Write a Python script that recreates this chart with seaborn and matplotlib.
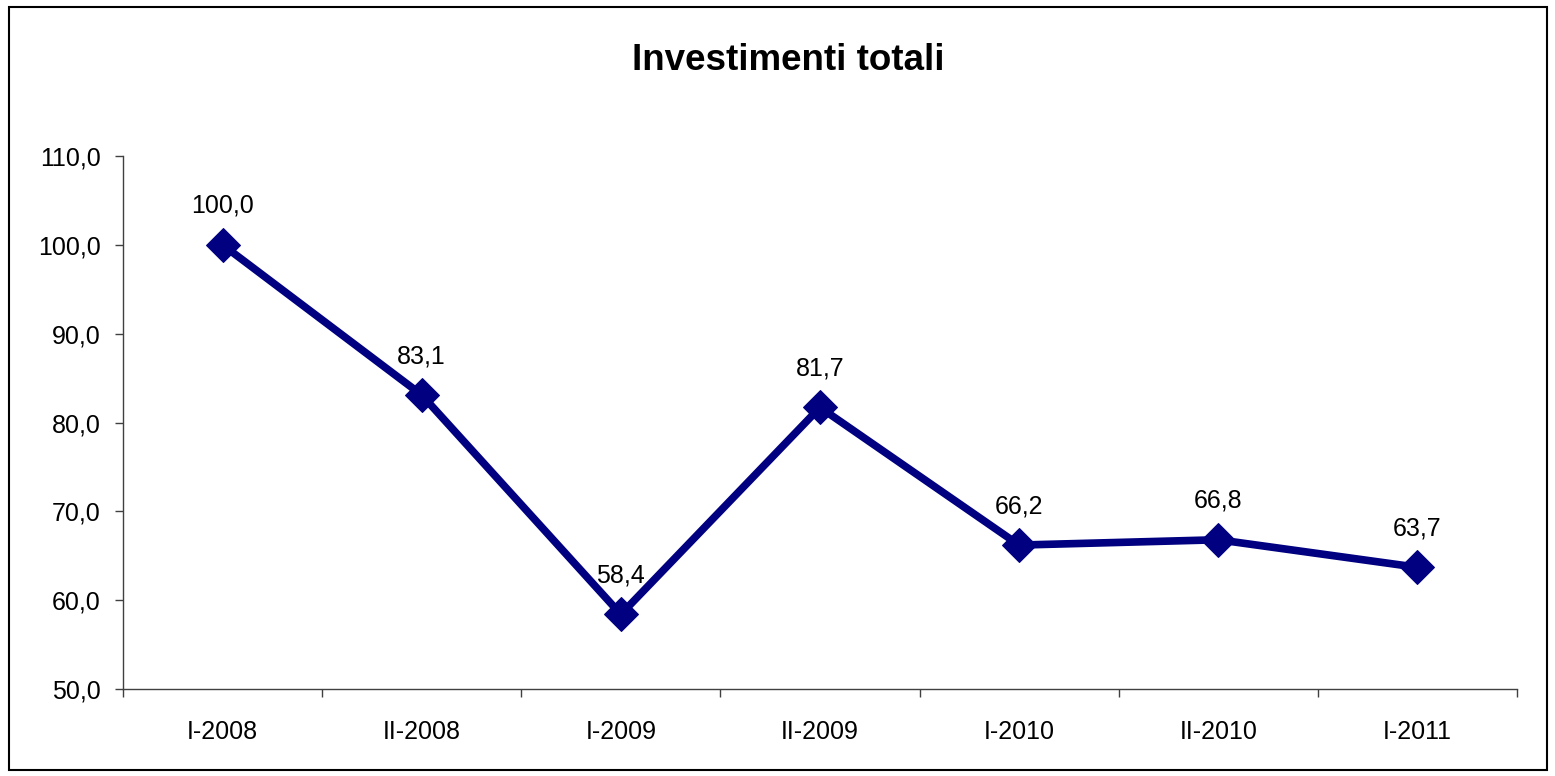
import matplotlib
matplotlib.use("Agg")
import matplotlib.pyplot as plt
import seaborn as sns
import pandas as pd
from matplotlib.patches import Rectangle
from matplotlib.ticker import FixedLocator, NullFormatter

categories = ["I-2008", "II-2008", "I-2009", "II-2009", "I-2010", "II-2010", "I-2011"]
values = [100.0, 83.1, 58.4, 81.7, 66.2, 66.8, 63.7]
yticks = [50, 60, 70, 80, 90, 100, 110]
title = "Investimenti totali"

sns.set_theme(style="white")
plt.rcParams['font.family'] = ['Liberation Sans', 'DejaVu Sans']

df = pd.DataFrame({"x": range(len(categories)), "y": values})

fig = plt.figure(figsize=(15.55, 7.76), dpi=100)
ax = fig.add_axes([123/1555, 87/776, (1517-123)/1555, (689-156)/776])

sns.lineplot(data=df, x="x", y="y", ax=ax, color="#000080", linewidth=5.5,
             marker="D", markersize=17, markeredgecolor="#000080")

ax.set_xlim(-0.5, len(categories) - 0.5)
ax.set_ylim(50, 110)
ax.set_yticks(yticks)
ax.set_yticklabels([f"{v:.1f}".replace(".", ",") for v in yticks], fontsize=18)
ax.set_xticks(range(len(categories)))
ax.set_xticklabels(categories, fontsize=18)
ax.xaxis.set_minor_locator(FixedLocator([i - 0.5 for i in range(len(categories) + 1)]))
ax.xaxis.set_minor_formatter(NullFormatter())
ax.tick_params(axis="x", which="major", length=0, pad=22, colors="black")
ax.tick_params(axis="x", which="minor", length=6, width=1, color="#404040", bottom=True)
ax.tick_params(axis="y", which="major", length=6, width=1, color="#404040", left=True, pad=10, labelcolor="black")

for s in ["top", "right"]:
    ax.spines[s].set_visible(False)
for s in ["left", "bottom"]:
    ax.spines[s].set_color("#404040")
    ax.spines[s].set_linewidth(1)

ax.set_xlabel("")
ax.set_ylabel("")

for i, v in enumerate(values):
    ax.annotate(f"{v:.1f}".replace(".", ","), (i, v), xytext=(0, 28),
                textcoords="offset points", ha="center", va="center", fontsize=18, color="black")

fig.text(788/1555, 1 - 60/776, title, ha="center", va="center", fontsize=26.5, fontweight="bold", color="black")

fig.patches.append(Rectangle((9/1555, 1 - 770/776), (1547-9)/1555, (770-7)/776,
                             transform=fig.transFigure, fill=False, edgecolor="black", linewidth=1.5))

fig.savefig("out.png", dpi=100)
